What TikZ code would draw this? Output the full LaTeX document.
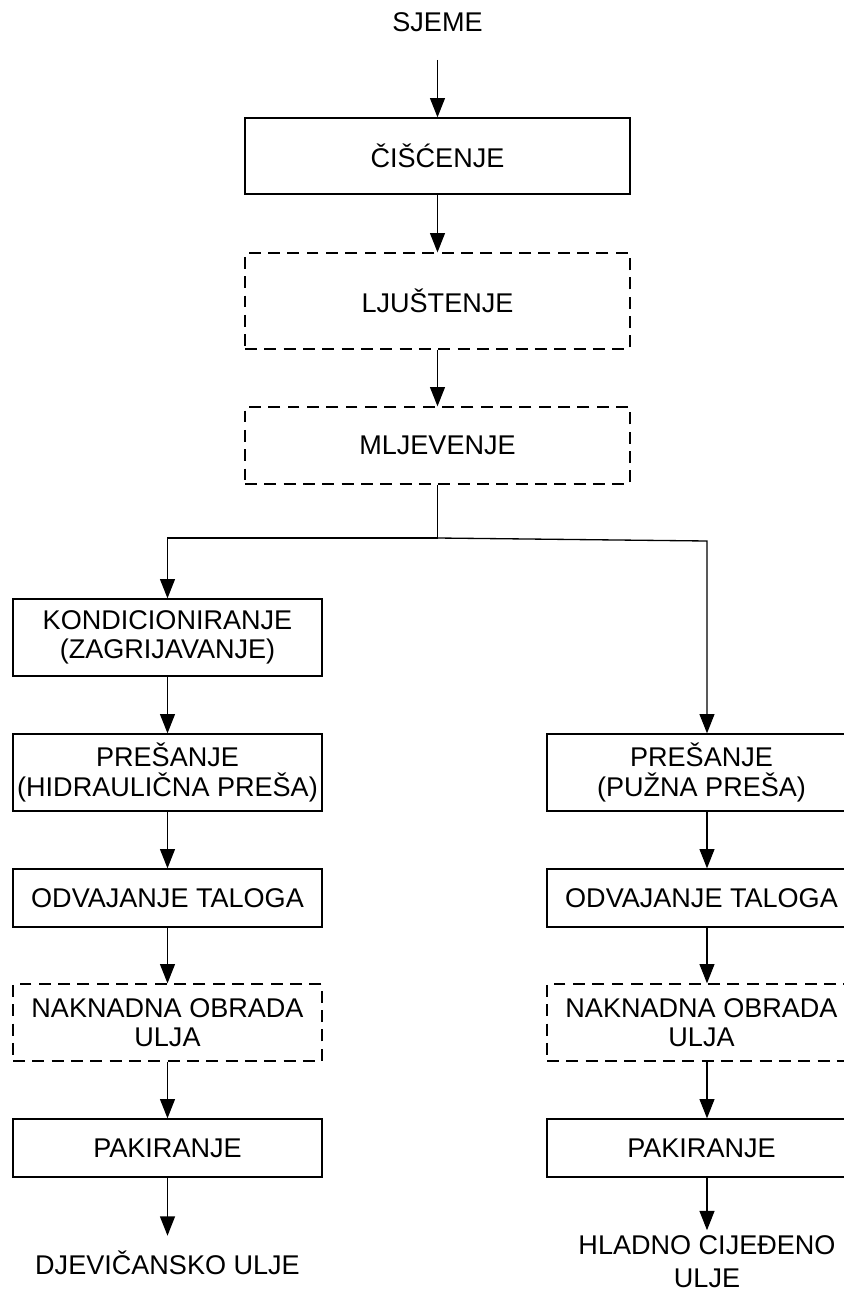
\documentclass[tikz,border=0pt]{standalone}
\usepackage{fontspec}
\setmainfont{Liberation Sans}
\usepackage{tikz}
\usetikzlibrary{arrows.meta, calc}

\begin{document}
\begin{tikzpicture}[x=0.02cm, y=-0.02cm,
    every node/.style={font=\fontsize{15.4pt}{16.6pt}\selectfont, inner sep=0pt, align=center},
    stepbox/.style={draw, line width=0.75pt, minimum width=6.18cm, minimum height=1.54cm},
    optbox/.style={stepbox, dash pattern=on 6.8pt off 4.2pt},
    flow/.style={line width=0.75pt, -{Triangle[length=11pt, width=8.5pt]}}]
  \useasboundingbox (0,0) rectangle (844,1291);

  % Common line
  \node (sjeme) at (437.5,22) {SJEME};
  \node[stepbox, minimum width=7.7cm, minimum height=1.52cm] (ciscenje) at (437.5,156) {ČIŠĆENJE};
  \node[optbox, minimum width=7.7cm, minimum height=1.92cm] (ljustenje) at (437.5,301) {LJUŠTENJE};
  \node[optbox, minimum width=7.7cm] (mljevenje) at (437.5,445.5) {MLJEVENJE};

  \coordinate (split) at (437.5,538);
  \coordinate (splitR) at (707,541);

  % Left line: hydraulic press
  \node[stepbox] (kondic) at (167.5,637.5) {KONDICIONIRANJE\\(ZAGRIJAVANJE)};
  \node[stepbox] (presL) at (167.5,772.5) {PREŠANJE\\(HIDRAULIČNA PREŠA)};
  \node[stepbox, minimum height=1.16cm] (talogL) at (167.5,898) {ODVAJANJE TALOGA};
  \node[optbox] (obradaL) at (167.5,1022.5) {NAKNADNA OBRADA\\ULJA};
  \node[stepbox, minimum height=1.16cm] (pakL) at (167.5,1148) {PAKIRANJE};
  \node (djev) at (167.5,1263) {DJEVIČANSKO ULJE};

  % Right line: screw press
  \node[stepbox] (presR) at (701.5,772.5) {PREŠANJE\\(PUŽNA PREŠA)};
  \node[stepbox, minimum height=1.16cm] (talogR) at (701.5,898) {ODVAJANJE TALOGA};
  \node[optbox] (obradaR) at (701.5,1022.5) {NAKNADNA OBRADA\\ULJA};
  \node[stepbox, minimum height=1.16cm] (pakR) at (701.5,1148) {PAKIRANJE};
  \node (hladno) at (707,1261.5) {HLADNO CIJEĐENO\\[0.07cm]ULJE};

  % Arrows
  \draw[flow, shorten <=0.56cm] (sjeme.south) -- (ciscenje.north);
  \draw[flow] (ciscenje.south) -- (ljustenje.north);
  \draw[flow] (ljustenje.south) -- (mljevenje.north);
  \draw[line width=0.75pt] (mljevenje.south) -- (split);
  \draw[flow] (split) -| (kondic.north);
  \draw[flow] (split) -- (splitR) -- (splitR |- presR.north);

  \draw[flow] (kondic.south) -- (presL.north);
  \draw[flow] (presL.south) -- (talogL.north);
  \draw[flow] (talogL.south) -- (obradaL.north);
  \draw[flow] (obradaL.south) -- (pakL.north);
  \draw[flow, shorten >=0.3cm] (pakL.south) -- (djev.north);

  \draw[flow] (presR.south -| splitR) -- (talogR.north -| splitR);
  \draw[flow] (talogR.south -| splitR) -- (obradaR.north -| splitR);
  \draw[flow] (obradaR.south -| splitR) -- (pakR.north -| splitR);
  \draw[flow, shorten >=0.1cm] (pakR.south -| splitR) -- (hladno.north);
\end{tikzpicture}
\end{document}
